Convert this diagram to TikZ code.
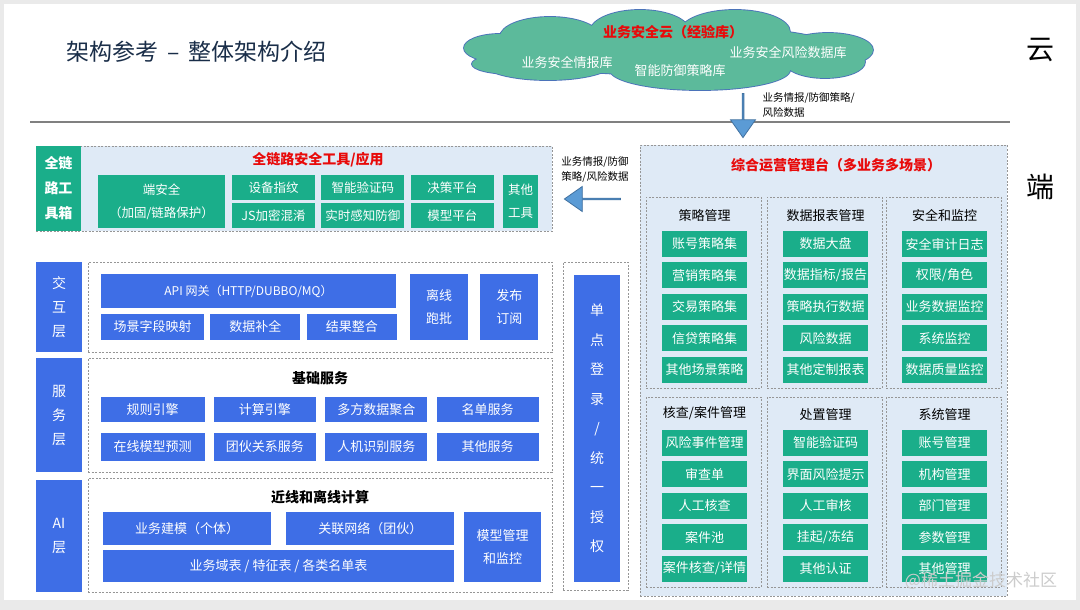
\documentclass[tikz,border=0pt]{standalone}
\usepackage{fontspec}
\setmainfont{Noto Sans CJK SC}
\usepackage{xcolor}
\definecolor{slidegray}{RGB}{234,234,234}
\definecolor{titleblue}{RGB}{25,45,72}
\definecolor{tealbox}{RGB}{26,174,138}
\definecolor{bluebox}{RGB}{62,110,230}
\definecolor{paleblue}{RGB}{223,234,246}
\definecolor{dashgray}{RGB}{150,150,150}
\definecolor{alertred}{RGB}{232,10,10}
\definecolor{arrowblue}{RGB}{91,155,213}
\definecolor{arrowedge}{RGB}{65,113,160}
\definecolor{cloudgreen}{RGB}{92,186,155}
\definecolor{cloudedge}{RGB}{75,115,185}
\usepackage{tikz}
\usetikzlibrary{shapes.arrows,positioning,fit,backgrounds}
\newcommand\cloudblobs{%
  (500,48) ellipse [x radius=36pt, y radius=14pt]
  (512,64) ellipse [x radius=40pt, y radius=10pt]
  (550,37) ellipse [x radius=50pt, y radius=20pt]
  (640,32) ellipse [x radius=50pt, y radius=22pt]
  (735,32) ellipse [x radius=55pt, y radius=22pt]
  (828,50) ellipse [x radius=45pt, y radius=17pt]
  (825,62) ellipse [x radius=40pt, y radius=16pt]
  (700,70) ellipse [x radius=90pt, y radius=20pt]
  (548,63) ellipse [x radius=65pt, y radius=17pt]
  (670,50) ellipse [x radius=170pt, y radius=25pt]}

\begin{document}
\begin{tikzpicture}[x=1pt, y=-1pt,
    tbox/.style={rectangle, fill=tealbox, text=white,
                 minimum width=85pt, minimum height=26pt, inner sep=0pt,
                 align=center, font=\fontsize{13}{15}\selectfont},
    tsm/.style={tbox, minimum width=83pt, minimum height=25pt,
                font=\fontsize{12.5}{23}\selectfont},
    bbox/.style={rectangle, fill=bluebox, text=white,
                 minimum height=26pt, inner sep=0pt,
                 align=center, font=\fontsize{13}{23}\selectfont},
    lyrbox/.style={bbox, minimum width=46pt, font=\fontsize{14}{24}\selectfont},
    grp/.style={rectangle, draw=dashgray, dash pattern=on 2pt off 1.5pt,
                line width=0.6pt, inner sep=0pt},
    subgrp/.style={grp, fill=paleblue},
    hdr/.style={font=\fontsize{14}{16}\selectfont\bfseries},
    redhdr/.style={hdr, text=alertred},
    subhdr/.style={font=\fontsize{13}{15}\selectfont},
    cloudtxt/.style={text=white, font=\fontsize{13}{15}\selectfont},
    flowarr/.style={single arrow, draw=arrowedge, fill=arrowblue, line width=0.8pt,
                    single arrow tip angle=70, inner sep=0pt},
    flowlbl/.style={font=\fontsize{10.5}{15}\selectfont, align=left},
  ]
  \useasboundingbox (0,0) rectangle (1080,610);
  \begin{scope}[on background layer]
    \fill[slidegray] (0,0) rectangle (1080,610);
    \fill[white] (4,4) rectangle (1076,600);
  \end{scope}

  %% HEADER -- title, cloud, side marks
  \node[anchor=west, text=titleblue, font=\fontsize{23}{26}\selectfont] (title) at (63,52)
    {架构参考 \,–\, 整体架构介绍};
  \draw[black!50, line width=1.2pt] (30,122) -- (1010,122);
  \node[font=\fontsize{28}{30}\selectfont] (yun)  at (1040,50)  {云};
  \node[font=\fontsize{28}{30}\selectfont] (duan) at (1040,187) {端};

  \coordinate (cloud) at (668,50);
  \draw[cloudedge, line width=1.8pt] \cloudblobs;
  \fill[cloudgreen] \cloudblobs;
  \node[redhdr] (cloudttl) at (673,32) {业务安全云（经验库）};
  \node[cloudtxt] (intel)  at (567,63) {业务安全情报库};
  \node[cloudtxt] (policy) at (680,71) {智能防御策略库};
  \node[cloudtxt] (riskdb) at (788,53) {业务安全风险数据库};

  \node[flowarr, shape border rotate=270, minimum height=44pt, minimum width=25pt,
        single arrow head extend=5.5pt] (down) at (743,115) {};
  \node[flowlbl, anchor=north west] (downlbl) at (759,89) {业务情报/防御策略/\\风险数据};

  %% TOOLBOX -- full-link tools
  \node[tbox, minimum width=45pt, minimum height=85pt,
        font=\fontsize{14}{25}\selectfont\bfseries] (tkit) at (58.5,188.5) {全链\\路工\\具箱};
  \node[redhdr] (toolttl) at (318,160) {全链路安全工具/应用};
  \node[tbox, minimum width=127pt, minimum height=53pt,
        font=\fontsize{12.5}{23}\selectfont] (endsec) at (161.5,201.5) {端安全\\（加固/链路保护）};
  \node[tsm] (devfp) at (273.5,187.5) {设备指纹};
  \node[tsm, below=3pt of devfp]  (jsobf)   {JS加密混淆};
  \node[tsm, right=6pt of devfp]  (captcha) {智能验证码};
  \node[tsm, below=3pt of captcha] (sense)  {实时感知防御};
  \node[tsm, right=6pt of captcha] (decide) {决策平台};
  \node[tsm, below=3pt of decide] (modelp)  {模型平台};
  \node[tsm, minimum width=35pt, minimum height=53pt] (othtool) at (520.5,201.5) {其他\\工具};

  \begin{scope}[on background layer]
    \node[subgrp, fit={(36,146) (552,231)}] (tools) {};
  \end{scope}

  \node[flowarr, shape border rotate=180, minimum height=56pt, minimum width=25pt,
        single arrow head extend=5.5pt] (left) at (593,199) {};
  \node[flowlbl] (leftlbl) at (595,170) {业务情报/防御\\策略/风险数据};

  %% LAYER 1 -- interaction
  \node[lyrbox, minimum height=90pt] (ilyr) at (59,307) {交\\互\\层};
  \node[bbox, minimum width=295pt, minimum height=34pt,
        font=\fontsize{12}{14}\selectfont] (api) at (248.5,291) {API 网关（HTTP/DUBBO/MQ）};
  \node[bbox, minimum width=103pt] (map) at (152.5,327) {场景字段映射};
  \node[bbox, minimum width=90pt, right=6pt of map] (fillin) {数据补全};
  \node[bbox, minimum width=90pt, right=6pt of fillin] (merge) {结果整合};
  \node[bbox, minimum width=58pt, minimum height=66pt] (batch) at (439,307) {离线\\跑批};
  \node[bbox, minimum width=58pt, minimum height=66pt, right=12pt of batch] (pubsub) {发布\\订阅};

  \begin{scope}[on background layer]
    \node[grp, fit={(88,262) (552,352)}] (igrp) {};
  \end{scope}

  %% LAYER 2 -- services
  \node[lyrbox, minimum height=114pt] (slyr) at (59,415) {服\\务\\层};
  \node[hdr] (basettl) at (320,378) {基础服务};
  \node[bbox, minimum width=104pt, minimum height=25pt] (rule) at (152.5,409.5) {规则引擎};
  \node[bbox, minimum width=102pt, minimum height=25pt, right=9pt of rule]  (calc)  {计算引擎};
  \node[bbox, minimum width=102pt, minimum height=25pt, right=9pt of calc]  (multi) {多方数据聚合};
  \node[bbox, minimum width=102pt, minimum height=25pt, right=9pt of multi] (names) {名单服务};
  \node[bbox, minimum width=104pt, minimum height=28pt] (online) at (152.5,446.5) {在线模型预测};
  \node[bbox, minimum width=102pt, minimum height=28pt, right=9pt of online] (gangsvc) {团伙关系服务};
  \node[bbox, minimum width=102pt, minimum height=28pt, right=9pt of gangsvc] (human) {人机识别服务};
  \node[bbox, minimum width=102pt, minimum height=28pt, right=9pt of human] (othsvc) {其他服务};

  \begin{scope}[on background layer]
    \node[grp, fit={(88,358) (552,472)}] (sgrp) {};
  \end{scope}

  %% LAYER 3 -- AI
  \node[lyrbox, minimum height=112pt] (alyr) at (59,536) {AI\\层};
  \node[hdr] (aittl) at (320,497) {近线和离线计算};
  \node[bbox, minimum width=168pt, minimum height=33pt] (indiv) at (187,528.5) {业务建模（个体）};
  \node[bbox, minimum width=168pt, minimum height=33pt, right=15pt of indiv] (gang) {关联网络（团伙）};
  \node[bbox, minimum width=351pt, minimum height=32pt] (tables) at (278.5,566) {业务域表 / 特征表 / 各类名单表};
  \node[bbox, minimum width=77pt, minimum height=70pt] (modelmon) at (502.5,547) {模型管理\\和监控};

  \begin{scope}[on background layer]
    \node[grp, fit={(88,478) (552,592)}] (agrp) {};
  \end{scope}

  %% SSO column
  \node[bbox, minimum width=46pt, minimum height=307pt,
        font=\fontsize{14}{29.5}\selectfont] (sso) at (597,428.5)
    {单\\点\\登\\录\\/\\统\\一\\授\\权};
  \begin{scope}[on background layer]
    \node[grp, fit={(563,262) (628,590)}] (ssogrp) {};
  \end{scope}

  %% OPS CONSOLE -- right panel
  \node[redhdr] (opsttl) at (836,165) {综合运营管理台（多业务多场景）};

  % top row
  \node[tbox] (pol1) at (704.5,244) {账号策略集};
  \node[tbox, below=5pt of pol1] (pol2) {营销策略集};
  \node[tbox, below=5pt of pol2] (pol3) {交易策略集};
  \node[tbox, below=5pt of pol3] (pol4) {信贷策略集};
  \node[tbox, below=5pt of pol4] (pol5) {其他场景策略};
  \node[subhdr, above=6pt of pol1] (polttl) {策略管理};

  \node[tbox] (rep1) at (825.5,244) {数据大盘};
  \node[tbox, below=5pt of rep1] (rep2) {数据指标/报告};
  \node[tbox, below=5pt of rep2] (rep3) {策略执行数据};
  \node[tbox, below=5pt of rep3] (rep4) {风险数据};
  \node[tbox, below=5pt of rep4] (rep5) {其他定制报表};
  \node[subhdr, above=6pt of rep1] (repttl) {数据报表管理};

  \node[tbox] (sec1) at (944.5,244) {安全审计日志};
  \node[tbox, below=5pt of sec1] (sec2) {权限/角色};
  \node[tbox, below=5pt of sec2] (sec3) {业务数据监控};
  \node[tbox, below=5pt of sec3] (sec4) {系统监控};
  \node[tbox, below=5pt of sec4] (sec5) {数据质量监控};
  \node[subhdr, above=6pt of sec1] (secttl) {安全和监控};

  % bottom row
  \node[tbox] (case1) at (704.5,443) {风险事件管理};
  \node[tbox, below=5pt of case1] (case2) {审查单};
  \node[tbox, below=5pt of case2] (case3) {人工核查};
  \node[tbox, below=5pt of case3] (case4) {案件池};
  \node[tbox, below=5pt of case4] (case5) {案件核查/详情};
  \node[subhdr, above=6pt of case1] (casettl) {核查/案件管理};

  \node[tbox] (act1) at (825.5,443) {智能验证码};
  \node[tbox, below=5pt of act1] (act2) {界面风险提示};
  \node[tbox, below=5pt of act2] (act3) {人工审核};
  \node[tbox, below=5pt of act3] (act4) {挂起/冻结};
  \node[tbox, below=5pt of act4] (act5) {其他认证};
  \node[subhdr, above=6pt of act1] (actttl) {处置管理};

  \node[tbox] (sys1) at (944.5,443) {账号管理};
  \node[tbox, below=5pt of sys1] (sys2) {机构管理};
  \node[tbox, below=5pt of sys2] (sys3) {部门管理};
  \node[tbox, below=5pt of sys3] (sys4) {参数管理};
  \node[tbox, below=5pt of sys4] (sys5) {其他管理};
  \node[subhdr, above=6pt of sys1] (systtl) {系统管理};

  \begin{scope}[on background layer]
    \node[subgrp, fit={(640,145) (1007,596)}] (ops) {};
    \node[subgrp, fit={(646,197) (761,388)}] (polgrp) {};
    \node[subgrp, fit={(767,197) (882,388)}] (repgrp) {};
    \node[subgrp, fit={(886,197) (1001,388)}] (secgrp) {};
    \node[subgrp, fit={(646,397) (761,587)}] (casegrp) {};
    \node[subgrp, fit={(767,397) (882,587)}] (actgrp) {};
    \node[subgrp, fit={(886,397) (1001,587)}] (sysgrp) {};
  \end{scope}

  \node[text=black!20, font=\fontsize{17}{20}\selectfont] (mark) at (981,581) {@稀土掘金技术社区};

\end{tikzpicture}
\end{document}
